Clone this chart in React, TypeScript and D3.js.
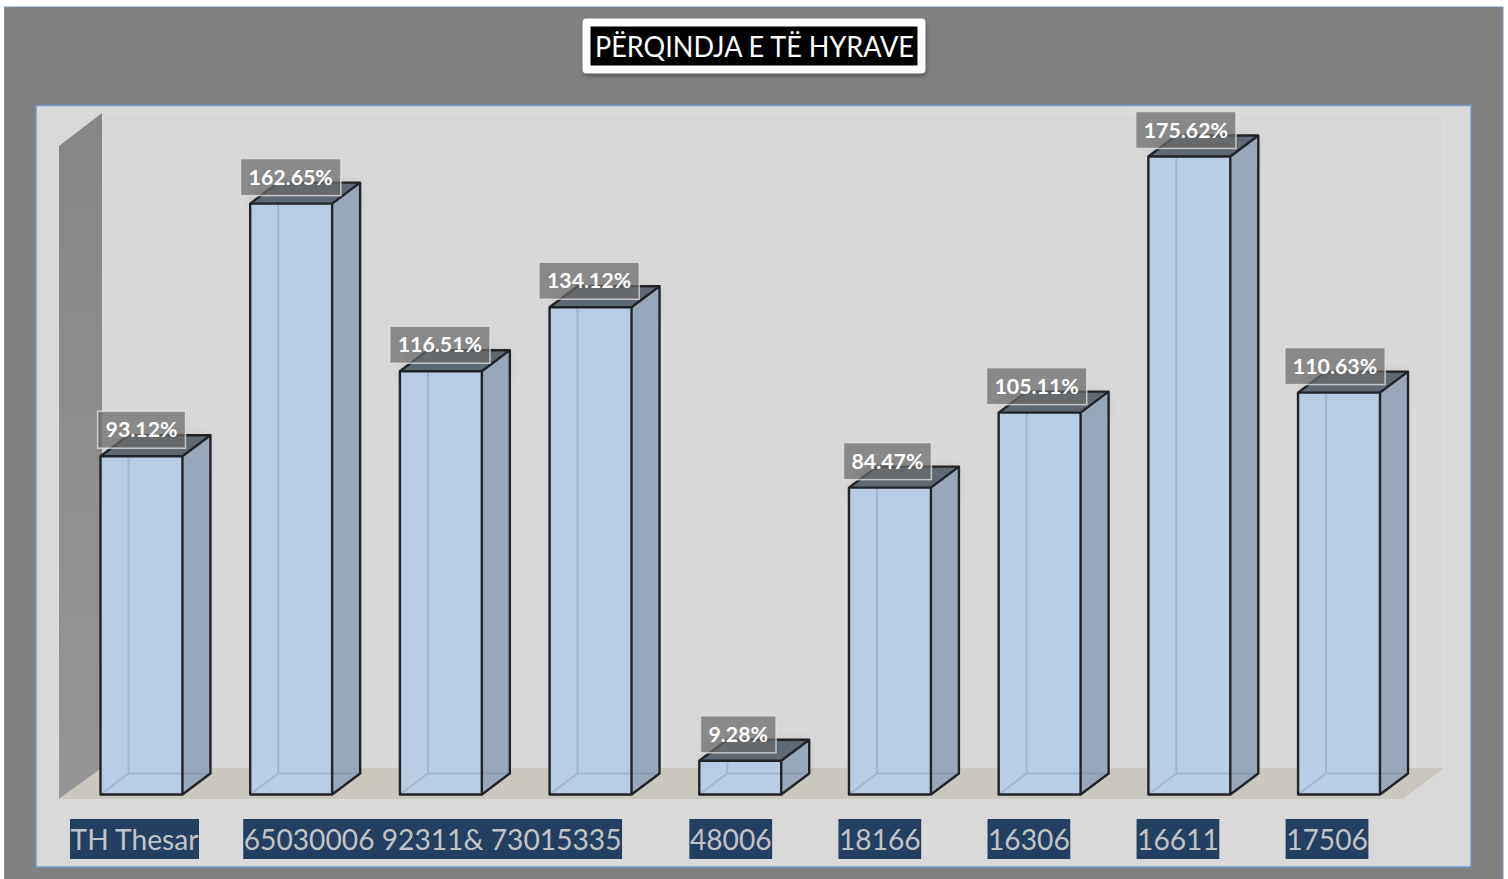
import React, { useEffect, useRef } from "react";
import * as d3 from "d3";

const barIds = ["TH Thesar", "65030006", "92311&", "73015335", "48006", "18166", "16306", "16611", "17506"];
const values = [93.12, 162.65, 116.51, 134.12, 9.28, 84.47, 105.11, 175.62, 110.63];
const axisLabels = ["TH Thesar", "65030006 92311& 73015335", "48006", "18166", "16306", "16611", "17506"];
const axisLabelGroups = [["TH Thesar"], ["65030006", "92311&", "73015335"], ["48006"], ["18166"], ["16306"], ["16611"], ["17506"]];
const title = "PËRQINDJA E TË HYRAVE";

export default function App() {
  const ref = useRef<SVGSVGElement | null>(null);
  useEffect(() => {
    const svg = d3.select(ref.current!);
    svg.selectAll("*").remove();
    const base = 794.5, dx = 28, dy = 21;
    const x = d3.scaleBand<string>().domain(barIds).range([100.5, 1380]).paddingInner(0.4526).paddingOuter(0);
    const y = d3.scaleLinear().domain([0, 175.62]).range([base, 156.5]);
    const labelX = d3.scalePoint<string>().domain(barIds).range([141.5, 1335]);
    const tickX = d3.scalePoint<string>().domain(barIds).range([134.5, 1327]);

    const defs = svg.append("defs");
    const blur = defs.append("filter").attr("id", "sh").attr("x", "-30%").attr("y", "-30%").attr("width", "170%").attr("height", "170%");
    blur.append("feGaussianBlur").attr("stdDeviation", 6);
    const blur2 = defs.append("filter").attr("id", "sh2").attr("x", "-10%").attr("y", "-20%").attr("width", "120%").attr("height", "150%");
    blur2.append("feGaussianBlur").attr("stdDeviation", 2.5);
    const wallG = defs.append("linearGradient").attr("id", "wall").attr("x1", 0).attr("x2", 0).attr("y1", 0).attr("y2", 1);
    wallG.append("stop").attr("offset", "0").attr("stop-color", "#868686");
    wallG.append("stop").attr("offset", "1").attr("stop-color", "#969696");

    svg.append("rect").attr("x", 4.5).attr("y", 7).attr("width", 1498.5).attr("height", 880).attr("fill", "#808080").attr("stroke", "#7f93ad").attr("stroke-width", 1);
    svg.append("rect").attr("x", 36).attr("y", 105.5).attr("width", 1435).attr("height", 761.5).attr("fill", "#d9d9d9").attr("stroke", "#7398cc").attr("stroke-width", 1.5);

    // back wall, side wall, floor
    svg.append("rect").attr("x", 102).attr("y", 113).attr("width", 1342).attr("height", 655).attr("fill", "#d8d8d8").attr("stroke", "#dedede");
    svg.append("path").attr("d", "M59,146L102,113L102,768L59,799Z").attr("fill", "url(#wall)");
    svg.append("path").attr("d", "M59,799L102,768L1444,768L1403,799Z").attr("fill", "#cac7bf");

    const g = svg.append("g");
    barIds.forEach((id, i) => {
      const l = x(id)!, w = x.bandwidth(), r = l + w, t = y(values[i]);
      const stroke = "#212326";
      // soft shadow behind the bar's top
      g.append("rect").attr("x", l + 4).attr("y", t - 20).attr("width", w + 22).attr("height", 30).attr("fill", "#000").attr("opacity", 0.1).attr("filter", "url(#sh)");
      const bar = g.append("g");
      bar.append("path").attr("d", `M${r},${t}L${r + dx},${t - dy}L${r + dx},${base - dy}L${r},${base}Z`).attr("fill", "#98a7ba");
      bar.append("path").attr("d", `M${l},${t}L${l + dx},${t - dy}L${r + dx},${t - dy}L${r},${t}Z`).attr("fill", "#5f6974");
      bar.append("rect").attr("x", l).attr("y", t).attr("width", w).attr("height", base - t).attr("fill", "#b8cce4");
      // back edges seen through the front
      bar.append("path").attr("d", `M${l + dx},${t}L${l + dx},${base - dy}M${l},${base}L${l + dx},${base - dy}L${r},${base - dy}`)
        .attr("fill", "none").attr("stroke", "#a2b5cc").attr("stroke-width", 2);
      bar.append("path").attr("d", `M${r},${base - dy}L${r + dx},${base - dy}`).attr("stroke", "#8b9aad").attr("stroke-width", 2);
      bar.append("path").attr("d", `M${l},${t}H${r}V${base}H${l}ZM${l},${t}L${l + dx},${t - dy}H${r + dx}L${r},${t}M${r + dx},${t - dy}V${base - dy}L${r},${base}`)
        .attr("fill", "none").attr("stroke", stroke).attr("stroke-width", 2.4).attr("stroke-linejoin", "round");
    });

    // data labels
    barIds.forEach((id, i) => {
      const t = y(values[i]);
      const cx = labelX(id)!;
      const lab = g.append("g");
      const rect = lab.append("rect");
      const txt = lab.append("text").text(values[i].toFixed(2) + "%").attr("x", cx).attr("y", t - 19)
        .attr("text-anchor", "middle").attr("fill", "#fff").attr("font-family", "Lato").attr("font-weight", 700).attr("font-size", 21.3);
      const tw = (txt.node() as SVGTextElement).getComputedTextLength();
      rect.attr("x", cx - tw / 2 - 8).attr("y", t - 45).attr("width", tw + 16).attr("height", 37)
        .attr("fill", "#6b6b6b").attr("fill-opacity", 0.72).attr("stroke", "#e6e6e6").attr("stroke-opacity", 0.75).attr("stroke-width", 1.5);
    });

    // category labels
    axisLabels.forEach((label, i) => {
      const ids = axisLabelGroups[i];
      const cx = d3.mean(ids, (d) => tickX(d)!)!;
      const a = svg.append("g");
      const rect = a.append("rect");
      const txt = a.append("text").text(label).attr("x", cx).attr("y", 850).attr("text-anchor", "middle")
        .attr("fill", "#c2c4c6").attr("font-family", "Lato").attr("font-size", 28.2);
      const tw = (txt.node() as SVGTextElement).getComputedTextLength();
      rect.attr("x", cx - tw / 2 - 0.5).attr("y", 819).attr("width", tw + 1).attr("height", 40).attr("fill", "#243f60");
    });

    // title
    const tg = svg.append("g");
    tg.append("rect").attr("x", 584).attr("y", 21).attr("width", 342).attr("height", 55).attr("rx", 4).attr("fill", "#000").attr("opacity", 0.35).attr("filter", "url(#sh2)");
    tg.append("rect").attr("x", 582.5).attr("y", 18.5).attr("width", 343).attr("height", 55).attr("rx", 4).attr("fill", "#fff");
    tg.append("rect").attr("x", 590.5).attr("y", 26.5).attr("width", 327).attr("height", 39).attr("fill", "#000");
    tg.append("text").text(title).attr("x", 754.5).attr("y", 57).attr("text-anchor", "middle").attr("fill", "#fff").attr("font-family", "Lato").attr("font-size", 28)
      .attr("textLength", 319).attr("lengthAdjust", "spacingAndGlyphs");
  }, []);
  return <svg ref={ref} width={1508} height={879} style={{ position: "fixed", left: 0, top: 0, background: "#fff" }} />;
}
